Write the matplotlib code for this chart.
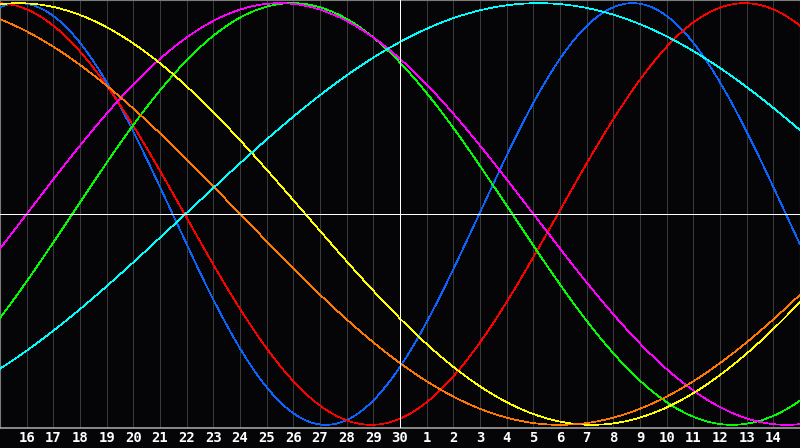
import numpy as np
import matplotlib
matplotlib.use("Agg")
import matplotlib.pyplot as plt

# Day labels along the bottom (today = 30 at the centre)
day_labels = ["16", "17", "18", "19", "20", "21", "22", "23", "24", "25", "26", "27", "28", "29", "30",
              "1", "2", "3", "4", "5", "6", "7", "8", "9", "10", "11", "12", "13", "14"]
today_index = 14

# Biorhythm cycles: period (days) and day index of a peak
cycle_names = ["physical", "emotional", "intellectual", "intuitive", "aesthetic", "awareness", "spiritual"]
cycle_periods = [23, 28, 33, 38, 43, 48, 53]
cycle_peaks = [22.72, 26.92, 9.96, 9.5, -0.3, -4.0, 19.2]
cycle_colors = ["#0a64ff", "#ff0000", "#00ff00", "#ff00ff", "#ffff00", "#ff7800", "#00ffff"]

W, H = 800, 448
fig = plt.figure(figsize=(W / 100, H / 100), dpi=100, facecolor="#050508")
plot_h = 428
ax = fig.add_axes([0, (H - plot_h) / H, 1, plot_h / H])
ax.set_facecolor("#050508")

n = len(day_labels)
x0, x1 = -1.0, n
ax.set_xlim(x0, x1)
ax.set_ylim(-1.015, 1.015)

LW = 0.5
# grid
for i in range(n):
    if i == today_index:
        continue
    ax.axvline(i, color="#3a3a3a", lw=LW, zorder=1, antialiased=False)

t = np.linspace(x0, x1, 1600)
for P, pk, c in zip(cycle_periods, cycle_peaks, cycle_colors):
    y = np.cos(2 * np.pi * (t - pk) / P)
    ax.plot(t, y, color=c, lw=LW, zorder=3, antialiased=False)

ax.axvline(today_index, color="white", lw=LW, zorder=4, antialiased=False)
ax.axhline(0, color="white", lw=LW, zorder=4, antialiased=False)

for s in ["top", "left", "right"]:
    ax.spines[s].set_color("#7a7a7a")
    ax.spines[s].set_linewidth(0.8)
ax.spines["bottom"].set_color("#a0a0a0")
ax.spines["bottom"].set_linewidth(1.2)

ax.set_xticks(range(n))
ax.set_xticklabels(day_labels, color="white", fontsize=10, fontweight="bold", family="DejaVu Sans Mono")
ax.tick_params(axis="x", length=0, pad=2.5)
ax.set_yticks([])

fig.savefig("out.png", dpi=100, facecolor=fig.get_facecolor())
